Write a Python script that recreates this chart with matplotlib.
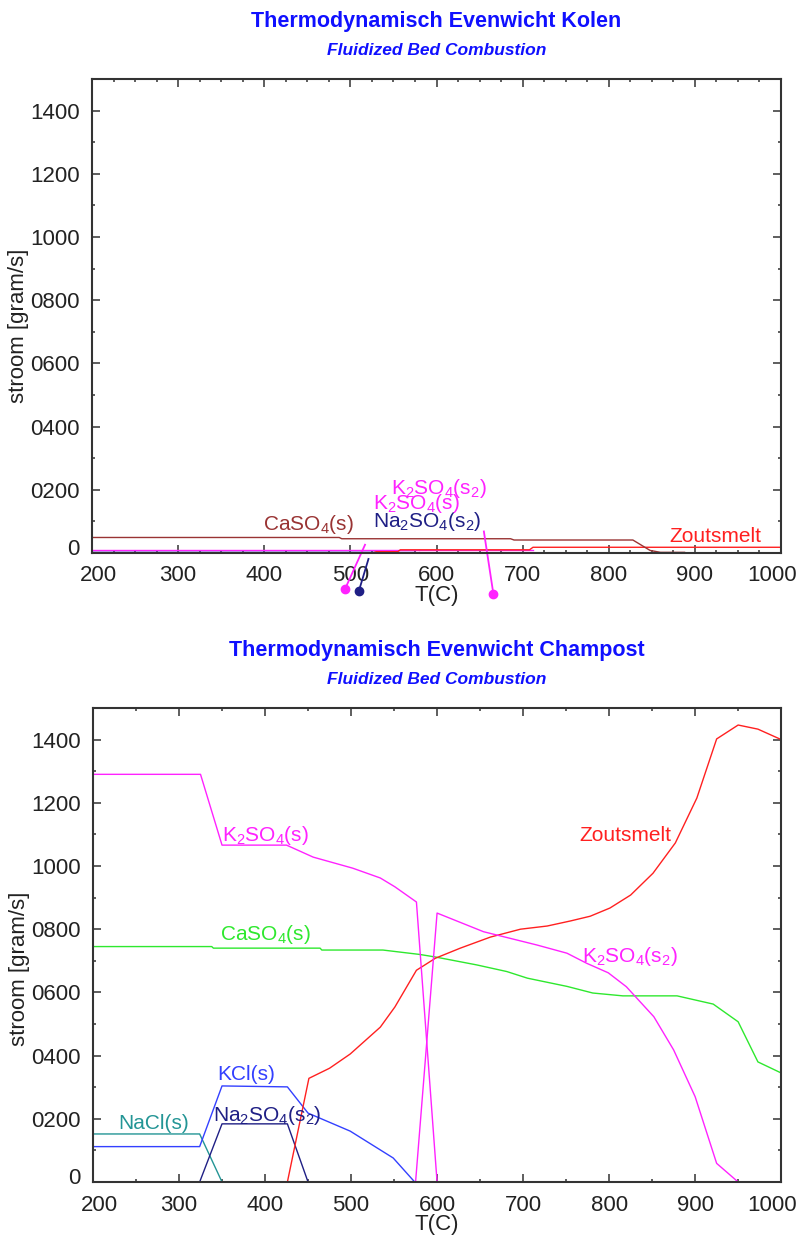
import matplotlib
matplotlib.use('Agg')
import matplotlib.pyplot as plt
from matplotlib.ticker import MultipleLocator, FuncFormatter
from matplotlib.transforms import ScaledTranslation

plt.rcParams['font.family'] = ['Liberation Sans', 'DejaVu Sans']
plt.rcParams['mathtext.default'] = 'regular'

# kolen data (top chart)
kolen_caso4_t = [200, 487, 490, 686, 690, 828, 848, 860, 888]
kolen_caso4_v = [49, 49, 45, 45, 41, 41, 8, 2, 2]
kolen_zout_t = [526, 530, 555, 558, 708, 712, 1000]
kolen_zout_v = [0, 4, 4, 10, 10, 18, 18]
kolen_k2so4_s_t = [200, 580]
kolen_k2so4_s_v = [9, 9]
kolen_k2so4_s2_t = [580, 712]
kolen_k2so4_s2_v = [9, 9]
kolen_kcl_t = [200, 575]
kolen_kcl_v = [4, 4]
kolen_na2so4_t = [200, 535]
kolen_na2so4_v = [2, 2]
kolen_nacl_t = [200, 350]
kolen_nacl_v = [1, 1]

# champost data (bottom chart)
champ_k2so4_s_t = [200, 325, 350, 425, 456, 502, 534, 551, 576, 600]
champ_k2so4_s_v = [1290, 1290, 1066, 1066, 1028, 993, 962, 934, 886, 0]
champ_k2so4_s2_t = [575, 600, 654, 716, 751, 774, 799, 820, 852, 875, 900, 925, 950]
champ_k2so4_s2_v = [0, 851, 792, 750, 724, 692, 662, 618, 523, 418, 270, 59, 0]
champ_zout_t = [426, 451, 475, 499, 534, 551, 576, 598, 627, 662, 697, 728, 755,
                778, 801, 825, 851, 877, 902, 925, 950, 973, 1000]
champ_zout_v = [0, 328, 360, 405, 490, 554, 670, 708, 740, 775, 800, 810, 826,
                841, 867, 908, 977, 1073, 1215, 1402, 1446, 1433, 1400]
champ_caso4_t = [200, 338, 340, 464, 466, 537, 580, 598, 646, 681, 705, 751, 781,
                 816, 879, 921, 950, 973, 1000]
champ_caso4_v = [745, 745, 740, 740, 734, 734, 720, 712, 687, 666, 645, 619, 598,
                 589, 589, 563, 507, 380, 345]
champ_kcl_t = [200, 324, 350, 426, 450, 499, 549, 574]
champ_kcl_v = [112, 112, 304, 301, 218, 161, 76, 0]
champ_na2so4_t = [324, 350, 426, 450]
champ_na2so4_v = [0, 184, 184, 0]
champ_nacl_t = [200, 324, 350]
champ_nacl_v = [152, 152, 0]

# axis ticks
x_ticks = [200, 300, 400, 500, 600, 700, 800, 900, 1000]
y_ticks = [0, 200, 400, 600, 800, 1000, 1200, 1400]

# colours
c_caso4_kolen = '#993333'
c_caso4 = '#2ee82e'
c_k2so4 = '#ff22ff'
c_zout = '#ff2020'
c_kcl = '#3340ff'
c_na2so4 = '#1f1f85'
c_nacl = '#239595'
c_title = '#1010ff'

# labels: text, left x, centre y, colour
kolen_labels = ['CaSO$_4$(s)', 'Na$_2$SO$_4$(s$_2$)', 'K$_2$SO$_4$(s)',
                'K$_2$SO$_4$(s$_2$)', 'Zoutsmelt']
kolen_label_t = [398, 526, 526, 547, 870]
kolen_label_v = [90, 100, 155, 203, 52]
kolen_label_c = [c_caso4_kolen, c_na2so4, c_k2so4, c_k2so4, c_zout]

# leader lines in the top chart (start, end with dot)
leader_t = [(517, 494), (521, 510), (655, 666)]
leader_v = [(26, -113), (-19, -119), (68, -129)]
leader_c = [c_k2so4, c_na2so4, c_k2so4]

champ_labels = ['K$_2$SO$_4$(s)', 'Zoutsmelt', 'CaSO$_4$(s)', 'K$_2$SO$_4$(s$_2$)',
                'KCl(s)', 'Na$_2$SO$_4$(s$_2$)', 'NaCl(s)']
champ_label_t = [350, 766, 348, 769, 345, 340, 229]
champ_label_v = [1098, 1098, 782, 715, 339, 212, 184]
champ_label_c = [c_k2so4, c_zout, c_caso4, c_k2so4, c_kcl, c_na2so4, c_nacl]

fig = plt.figure(figsize=(8.03, 12.39), dpi=100)
ax1 = fig.add_axes([0.1146, 0.5537, 0.858, 0.3826])
ax2 = fig.add_axes([0.1158, 0.0460, 0.857, 0.3826])


def style_axes(ax, xminor, title, ylabel_y):
    ax.set_xlim(200, 1000)
    ax.set_ylim(0, 1500)
    ax.set_xticks(x_ticks)
    ax.xaxis.set_minor_locator(MultipleLocator(xminor))
    ax.set_yticks(y_ticks)
    ax.yaxis.set_minor_locator(MultipleLocator(100))
    ax.yaxis.set_major_formatter(FuncFormatter(lambda v, p: '0' if v == 0 else '%04d' % v))
    for s in ax.spines.values():
        s.set_color('#333333')
        s.set_linewidth(1.5)
    ax.tick_params(which='both', direction='in', top=True, right=True,
                   color='#333333', width=1.1, labelsize=16, labelcolor='#222222', pad=9)
    ax.tick_params(which='major', length=5.5)
    ax.tick_params(which='minor', length=2.5)
    ax.set_xlabel('T(C)', fontsize=16, color='#222222')
    ax.xaxis.set_label_coords(0.5, -0.089)
    ax.xaxis.label.set_va('center')
    ax.set_ylabel('stroom [gram/s]', fontsize=16, color='#222222')
    ax.yaxis.set_label_coords(-0.107, ylabel_y)
    ax.yaxis.label.set_va('center')
    ax.text(0.5, 1.122, title, transform=ax.transAxes, ha='center', va='center',
            fontsize=15.5, fontweight='bold', color=c_title)
    ax.text(0.5, 1.061, 'Fluidized Bed Combustion', transform=ax.transAxes,
            ha='center', va='center', fontsize=12.5, fontweight='bold',
            style='italic', color=c_title)
    # endpoint tick labels sit a bit inward, the zero label a bit up
    xt = ax.xaxis.get_major_ticks()
    xt[0].label1.set_transform(xt[0].label1.get_transform() + ScaledTranslation(6 / 100, 0, fig.dpi_scale_trans))
    xt[-1].label1.set_transform(xt[-1].label1.get_transform() + ScaledTranslation(-9 / 100, 0, fig.dpi_scale_trans))
    yt = ax.yaxis.get_major_ticks()
    yt[0].label1.set_transform(yt[0].label1.get_transform() + ScaledTranslation(0, 6 / 100, fig.dpi_scale_trans))


# top chart: kolen
lw = 1.0
ax1.plot(kolen_nacl_t, kolen_nacl_v, color=c_nacl, lw=lw)
ax1.plot(kolen_kcl_t, kolen_kcl_v, color=c_kcl, lw=lw)
ax1.plot(kolen_k2so4_s_t, kolen_k2so4_s_v, color=c_k2so4, lw=lw)
ax1.plot(kolen_k2so4_s2_t, kolen_k2so4_s2_v, color=c_k2so4, lw=lw)
ax1.plot(kolen_na2so4_t, kolen_na2so4_v, color=c_na2so4, lw=lw)
ax1.plot(kolen_zout_t, kolen_zout_v, color=c_zout, lw=lw)
ax1.plot(kolen_caso4_t, kolen_caso4_v, color=c_caso4_kolen, lw=lw)
for txt, t, v, c in zip(kolen_labels, kolen_label_t, kolen_label_v, kolen_label_c):
    ax1.text(t, v, txt, color=c, fontsize=15, ha='left', va='center')
for t, v, c in zip(leader_t, leader_v, leader_c):
    ax1.plot(t, v, color=c, lw=1.3, clip_on=False)
    ax1.plot(t[1], v[1], 'o', color=c, ms=6, clip_on=False)
style_axes(ax1, 25, 'Thermodynamisch Evenwicht Kolen', 0.48)

# bottom chart: champost
ax2.plot(champ_nacl_t, champ_nacl_v, color=c_nacl, lw=lw)
ax2.plot(champ_kcl_t, champ_kcl_v, color=c_kcl, lw=lw)
ax2.plot(champ_na2so4_t, champ_na2so4_v, color=c_na2so4, lw=lw)
ax2.plot(champ_caso4_t, champ_caso4_v, color=c_caso4, lw=lw)
ax2.plot(champ_zout_t, champ_zout_v, color=c_zout, lw=lw)
ax2.plot(champ_k2so4_s_t, champ_k2so4_s_v, color=c_k2so4, lw=lw)
ax2.plot(champ_k2so4_s2_t, champ_k2so4_s2_v, color=c_k2so4, lw=lw)
for txt, t, v, c in zip(champ_labels, champ_label_t, champ_label_v, champ_label_c):
    ax2.text(t, v, txt, color=c, fontsize=15, ha='left', va='center')
style_axes(ax2, 50, 'Thermodynamisch Evenwicht Champost', 0.45)

fig.savefig('out.png', dpi=100)
